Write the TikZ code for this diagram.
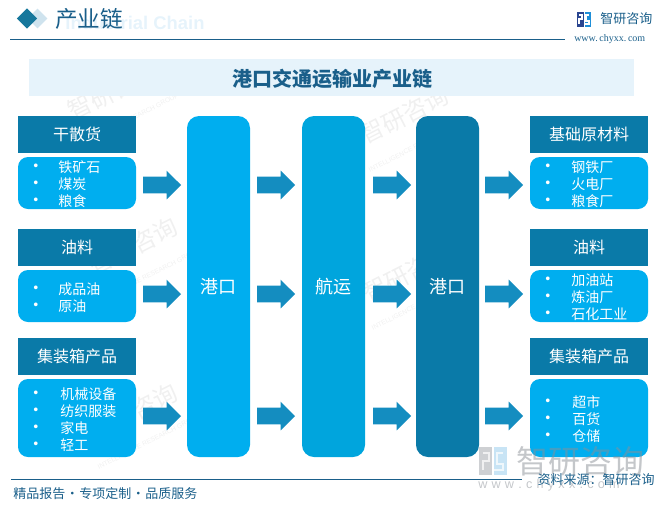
\documentclass[tikz,border=0pt]{standalone}
\usepackage{fontspec}
\setmainfont{Noto Sans CJK SC}
\newfontfamily\latinsans{Liberation Sans}
\newfontfamily\latinserif{Liberation Serif}
\usepackage{xcolor}
\definecolor{headteal}{HTML}{0A7AA8}
\definecolor{bodyblue}{HTML}{00AEEF}
\definecolor{shipblue}{HTML}{00A5DD}
\definecolor{arrowblue}{HTML}{148DC0}
\definecolor{bandblue}{HTML}{E6F3FB}
\definecolor{titleblue}{HTML}{1A5F8A}
\definecolor{diamondpale}{HTML}{CFE3EE}
\definecolor{wmgray}{HTML}{8A8F96}
\definecolor{logodark}{HTML}{2A4590}
\definecolor{logolight}{HTML}{1F8FD8}
\usetikzlibrary{
    shapes.geometric,
    shapes.arrows,
    positioning
}
\newcommand{\bitem}[2]{\makebox[#1][l]{\kern-2pt\raisebox{0.2pt}{\scalebox{1.25}{\textbullet}}}#2}

\begin{document}
\begin{tikzpicture}[
    x=0.75pt, y=-0.75pt,
    headbox/.style={fill=headteal, text=white, minimum width=88.5pt, minimum height=27.75pt, inner sep=0pt, outer sep=0pt, font=\fontsize{12}{14}\selectfont},
    bodybox/.style={fill=bodyblue, text=white, rounded corners=7.5pt, text width=70pt, minimum height=39pt, inner ysep=0pt, inner xsep=9.25pt, outer sep=0pt, align=left, font=\fontsize{10.5}{12.75}\selectfont, execute at begin node={\rule{0pt}{11pt}}},
    colbox/.style={fill=bodyblue, text=white, rounded corners=9pt, minimum width=47.25pt, minimum height=255.75pt, inner sep=0pt, outer sep=0pt, font=\fontsize{13.5}{16}\selectfont},
    flowarrow/.style={single arrow, fill=arrowblue, minimum height=28.5pt, minimum width=21pt, single arrow head extend=4.5pt, inner sep=6pt, outer sep=0pt},
    wmtile/.style={text=black!6, rotate=27, align=center, inner sep=0pt, font=\fontsize{18}{20}\selectfont},
    logomark/.pic={
        \fill[logodark] (0,0) rectangle (6.5,15);
        \fill[logolight] (7.5,0) rectangle (14,15);
        \draw[white, line width=0.8pt] (2,3) -- (5,3) -- (5,7) -- (2,7) -- (2,12);
        \draw[white, line width=0.8pt] (12,3) -- (9,3) -- (9,9) -- (12,9) -- (12,12) -- (7.5,12);
    },
    wmlogo/.pic={
        \fill[wmgray!60!white] (0,0) rectangle (13,28);
        \fill[logolight!35!white] (15,0) rectangle (28,28);
        \draw[white, line width=1.5pt] (4,6) -- (10,6) -- (10,14) -- (4,14) -- (4,23);
        \draw[white, line width=1.5pt] (24,6) -- (18,6) -- (18,17) -- (24,17) -- (24,23) -- (15,23);
    }
]
\useasboundingbox (0,0) rectangle (664,511);

% ==================== BACKGROUND TILES ====================
\node[wmtile] (tile_a) at (118,102) {智研咨询\\{\latinsans\fontsize{5}{6}\selectfont INTELLIGENCE RESEARCH GROUP}};
\node[wmtile] (tile_b) at (139,257) {智研咨询\\{\latinsans\fontsize{5}{6}\selectfont INTELLIGENCE RESEARCH GROUP}};
\node[wmtile] (tile_c) at (139,423) {智研咨询\\{\latinsans\fontsize{5}{6}\selectfont INTELLIGENCE RESEARCH GROUP}};
\node[wmtile] (tile_d) at (410,126) {智研咨询\\{\latinsans\fontsize{5}{6}\selectfont INTELLIGENCE RESEARCH GROUP}};
\node[wmtile] (tile_e) at (413,284) {智研咨询\\{\latinsans\fontsize{5}{6}\selectfont INTELLIGENCE RESEARCH GROUP}};

% ==================== PAGE HEADER ====================
\node[fill=bandblue, minimum width=453.75pt, minimum height=27.75pt, inner sep=0pt] (band) at (331.5,77.5) {};
\node[font=\latinsans\bfseries\fontsize{13.8}{16}\selectfont, text=bandblue] (entitle) at (135,23) {Industrial Chain};
\node[diamond, fill=diamondpale, inner sep=0pt, minimum size=15pt] (dmd_back) at (37.5,18.5) {};
\node[diamond, fill=titleblue!85!cyan, inner sep=0pt, minimum size=15.5pt] (dmd_front) at (27,18.5) {};
\node[font=\fontsize{17}{20}\selectfont, text=titleblue, anchor=west, inner sep=0pt] (pagetitle) at (55,19) {产业链};
\coordinate (rule_a) at (10,39.5);
\coordinate (rule_b) at (565,39.5);
\draw[titleblue, line width=0.75pt] (rule_a) -- (rule_b);
\pic at (577,12) {logomark};
\node[font=\fontsize{9.75}{12}\selectfont, text=titleblue, anchor=west, inner sep=0pt] (brand) at (600,19) {智研咨询};
\node[font=\latinserif\fontsize{7.5}{9}\selectfont, text=titleblue, anchor=west, inner sep=0pt] (site) at (574,39) {www.\,chyxx.\,com};
\node[font=\bfseries\fontsize{15}{18}\selectfont, text=titleblue] (title) at (332,78.5) {港口交通运输业产业链};

% ==================== LEFT COLUMN ====================
\node[headbox] (dry_head) at (77,134.5) {干散货};
\node[bodybox, below=3pt of dry_head] (dry_body) {\bitem{21pt}{铁矿石}\\\bitem{21pt}{煤炭}\\\bitem{21pt}{粮食}};
\node[headbox] (oil_head) at (77,247.5) {油料};
\node[bodybox, below=3pt of oil_head] (oil_body) {\bitem{21pt}{成品油}\\\bitem{21pt}{原油}};
\node[headbox] (box_head) at (77,356.5) {集装箱产品};
\node[bodybox, below=3pt of box_head, minimum height=58.5pt] (box_body) {\bitem{22.5pt}{机械设备}\\\bitem{22.5pt}{纺织服装}\\\bitem{22.5pt}{家电}\\\bitem{22.5pt}{轻工}};

% ==================== MIDDLE COLUMNS ====================
\node[colbox] (port_in) at (218.5,286.5) {港口};
\node[colbox, fill=shipblue] (shipping) at (333.5,286.5) {航运};
\node[colbox, fill=headteal] (port_out) at (447.5,286.5) {港口};

% ==================== RIGHT COLUMN ====================
\node[headbox] (base_head) at (589,134.5) {基础原材料};
\node[bodybox, below=3pt of base_head] (base_body) {\bitem{21.75pt}{钢铁厂}\\\bitem{21.75pt}{火电厂}\\\bitem{21.75pt}{粮食厂}};
\node[headbox] (fuel_head) at (589,247.5) {油料};
\node[bodybox, below=3pt of fuel_head] (fuel_body) {\bitem{21.75pt}{加油站}\\\bitem{21.75pt}{炼油厂}\\\bitem{21.75pt}{石化工业}};
\node[headbox] (goods_head) at (589,356.5) {集装箱产品};
\node[bodybox, below=3pt of goods_head, minimum height=58.5pt] (goods_body) {\bitem{22.5pt}{超市}\\\bitem{22.5pt}{百货}\\\bitem{22.5pt}{仓储}};

% ==================== FLOW ARROWS ====================
\node[flowarrow, right=5.25pt of dry_body, yshift=-1.5pt] (arrow_a1) {};
\node[flowarrow, right=5.25pt of oil_body, yshift=1.5pt] (arrow_a2) {};
\node[flowarrow, right=5.25pt of box_body, yshift=1.5pt] (arrow_a3) {};
\node[flowarrow, right=5.25pt of port_in.east|-arrow_a1] (arrow_b1) {};
\node[flowarrow, right=5.25pt of port_in.east|-arrow_a2] (arrow_b2) {};
\node[flowarrow, right=5.25pt of port_in.east|-arrow_a3] (arrow_b3) {};
\node[flowarrow, right=6pt of shipping.east|-arrow_a1] (arrow_c1) {};
\node[flowarrow, right=6pt of shipping.east|-arrow_a2] (arrow_c2) {};
\node[flowarrow, right=6pt of shipping.east|-arrow_a3] (arrow_c3) {};
\node[flowarrow, right=4.5pt of port_out.east|-arrow_a1] (arrow_d1) {};
\node[flowarrow, right=4.5pt of port_out.east|-arrow_a2] (arrow_d2) {};
\node[flowarrow, right=4.5pt of port_out.east|-arrow_a3] (arrow_d3) {};

% ==================== FOOTER ====================
\pic[opacity=0.7] at (479,447) {wmlogo};
\node[font=\fontsize{24}{28}\selectfont, text=wmgray, opacity=0.5, anchor=west, inner sep=0pt] (wm_brand) at (516,461) {智研咨询};
\node[font=\latinsans\fontsize{9.5}{11}\selectfont, text=wmgray, opacity=0.5, anchor=west, inner sep=0pt] (wm_site) at (478,485) {w\,\,w\,\,w\,\,.\,\,c\,\,h\,\,y\,\,x\,\,x\,\,.\,\,c\,\,o\,\,m};
\coordinate (foot_a) at (11,479.5);
\coordinate (foot_b) at (522,479.5);
\draw[titleblue, line width=0.75pt] (foot_a) -- (foot_b);
\node[font=\fontsize{9.75}{12}\selectfont, text=titleblue, anchor=west, inner sep=0pt] (slogan) at (13,494) {精品报告\makebox[10.5pt]{·}专项定制\makebox[10.5pt]{·}品质服务};
\node[font=\fontsize{9.75}{12}\selectfont, text=titleblue, anchor=east, inner sep=0pt] (source) at (655,480) {资料来源：智研咨询};

\end{tikzpicture}
\end{document}
